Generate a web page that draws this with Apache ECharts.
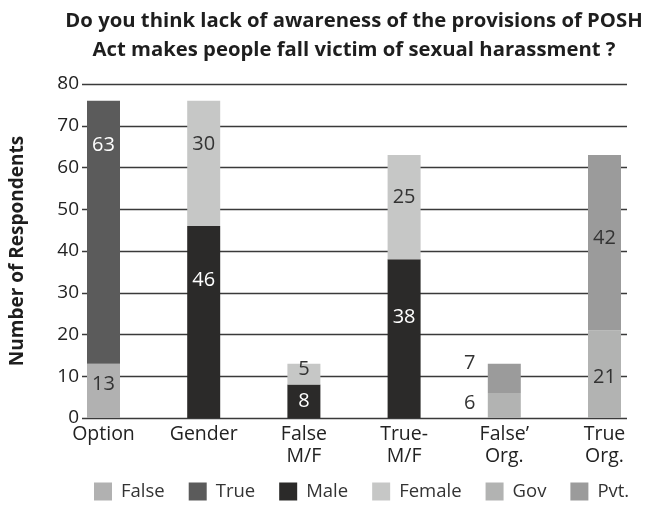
<!DOCTYPE html>
<html>
<head>
<meta charset="utf-8">
<script src="https://cdn.jsdelivr.net/npm/echarts@6/dist/echarts.min.js"></script>
<style>
  html, body { margin: 0; padding: 0; background: #fff; }
  #chart { width: 647px; height: 508px; }
</style>
</head>
<body>
<div id="chart"></div>
<script>
// Categories and stacked counts
const categories = ['Option', 'Gender', 'False\nM/F', 'True-\nM/F', 'False\u2019\nOrg.', 'True\nOrg.'];
const falseVals  = [13, null, null, null, null, null];
const trueVals   = [63, null, null, null, null, null];
const maleVals   = [null, 46, 8, 38, null, null];
const femaleVals = [null, 30, 5, 25, null, null];
const govVals    = [null, null, null, null, 6, 21];
const pvtVals    = [null, null, null, null, 7, 42];
const yTicks = { min: 0, max: 80, step: 10 };

const FONT = '"Open Sans", "Noto Sans", sans-serif';
const DARK = '#333333';
const WHITE = '#ffffff';

// Label placement per segment: [x, y from segment top]
const labelLayout = {
  False:  [[ '50%', 21 ]],
  True:   [[ '50%', 45 ]],
  Male:   [null, [ '50%', 54 ], [ '50%', 17 ], [ '50%', 58 ]],
  Female: [null, [ '50%', 44 ], [ '50%', 6 ],  [ '50%', 42 ]],
  Gov:    [null, null, null, null, [ -18, 10 ], [ '50%', 47 ]],
  Pvt:    [null, null, null, null, [ -18, 0 ],  [ '50%', 83 ]]
};

function buildData(values, key, textColor) {
  return values.map((v, i) => {
    if (v === null) return '-';
    const pos = labelLayout[key][i] || ['50%', '50%'];
    return {
      value: v,
      label: {
        show: true,
        position: pos,
        align: 'center',
        verticalAlign: 'middle',
        color: typeof pos[0] === 'number' ? DARK : textColor
      }
    };
  });
}

const seriesDefs = [
  { name: 'False',  key: 'False',  values: falseVals,  color: '#b1b1b1', text: DARK },
  { name: 'True',   key: 'True',   values: trueVals,   color: '#5b5b5b', text: WHITE },
  { name: 'Male',   key: 'Male',   values: maleVals,   color: '#2b2a29', text: WHITE },
  { name: 'Female', key: 'Female', values: femaleVals, color: '#c6c7c6', text: DARK },
  { name: 'Gov',    key: 'Gov',    values: govVals,    color: '#b2b3b2', text: DARK },
  { name: 'Pvt.',   key: 'Pvt',    values: pvtVals,    color: '#9b9b9b', text: DARK }
];

const series = seriesDefs.map(d => ({
  name: d.name,
  type: 'bar',
  stack: 'total',
  xAxisIndex: 1,
  yAxisIndex: 1,
  barWidth: 33,
  itemStyle: { color: d.color },
  label: { fontFamily: FONT, fontSize: 20 },
  data: buildData(d.values, d.key, d.text)
}));

const chart = echarts.init(document.getElementById('chart'), null, { renderer: 'canvas' });
chart.setOption({
  animation: false,
  backgroundColor: '#ffffff',
  title: {
    text: 'Do you think lack of awareness of the provisions of POSH\nAct makes people fall victim of sexual harassment ?',
    left: 349,
    textAlign: 'center',
    top: 2,
    textStyle: { fontFamily: FONT, fontWeight: 'bold', fontSize: 20.3, color: '#1e1e1e', lineHeight: 29 }
  },
  legend: {
    bottom: 2,
    left: 89,
    itemWidth: 18,
    itemHeight: 18,
    itemGap: 24,
    icon: 'rect',
    textStyle: { fontFamily: FONT, fontSize: 18.5, color: '#333', padding: [0, 0, 0, 4] },
    data: seriesDefs.map(d => d.name)
  },
  grid: [
    { left: 73, right: 20, top: 84, bottom: 90 },
    { left: 103.5, right: 42.5, top: 84, bottom: 90 }
  ],
  xAxis: [
    { gridIndex: 0, type: 'value', show: false, min: 0, max: 1 },
    {
      gridIndex: 1,
      type: 'category',
      data: categories,
      boundaryGap: false,
      axisLine: { show: false },
      axisTick: { show: false },
      axisLabel: {
        interval: 0,
        margin: 5,
        fontFamily: FONT,
        fontSize: 19.5,
        color: '#222',
        lineHeight: 22
      }
    }
  ],
  yAxis: [
    {
      gridIndex: 0,
      type: 'value',
      min: yTicks.min,
      max: yTicks.max,
      interval: yTicks.step,
      name: 'Number of Respondents',
      nameLocation: 'middle',
      nameGap: 55,
      nameTextStyle: { fontFamily: FONT, fontWeight: 'bold', fontSize: 19, color: '#1e1e1e' },
      axisLine: { show: false },
      axisTick: { show: false },
      axisLabel: { margin: 3, fontFamily: FONT, fontSize: 19, color: '#222' },
      splitLine: { lineStyle: { color: '#3a3a3a', width: 1.4 } }
    },
    {
      gridIndex: 1,
      type: 'value',
      min: yTicks.min,
      max: yTicks.max,
      interval: yTicks.step,
      show: false,
      splitLine: { show: false }
    }
  ],
  series: series
});
</script>
</body>
</html>
